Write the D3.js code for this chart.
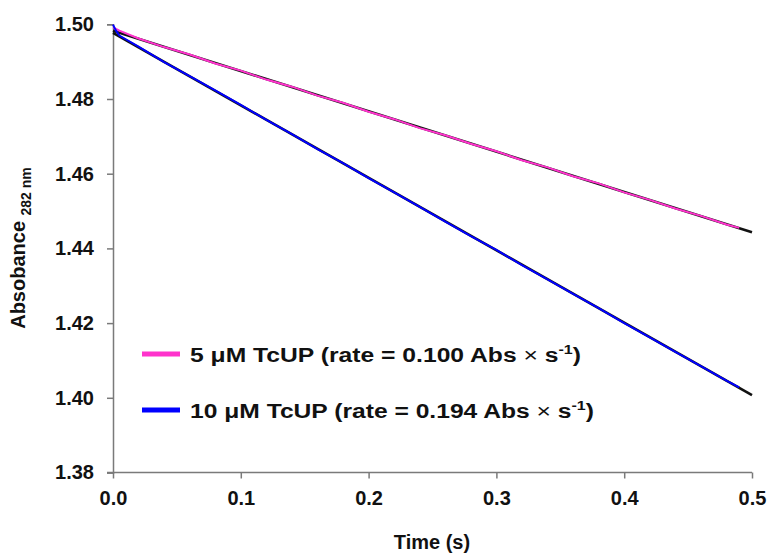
<!DOCTYPE html>
<html><head><meta charset="utf-8">
<script src="https://cdn.jsdelivr.net/npm/d3@7"></script>
<style>body{margin:0;background:#fff}svg{display:block}</style>
</head><body><svg id="c" width="769" height="557"></svg>
<script>
// Data
const xTicks = [0.0, 0.1, 0.2, 0.3, 0.4, 0.5];
const yTicks = [1.38, 1.40, 1.42, 1.44, 1.46, 1.48, 1.50];

const time5 = [0, 0.005, 0.02, 0.04, 0.06, 0.08, 0.10, 0.12, 0.14, 0.16, 0.18, 0.20, 0.22, 0.24, 0.26, 0.28, 0.30, 0.32, 0.34, 0.36, 0.38, 0.40, 0.42, 0.44, 0.46, 0.48, 0.49];
const abs5  = [1.4992, 1.4983, 1.4962, 1.4939, 1.4919, 1.4895, 1.4876, 1.4852, 1.4833, 1.4809, 1.4790, 1.4766, 1.4746, 1.4722, 1.4703, 1.4680, 1.4660, 1.4636, 1.4617, 1.4593, 1.4574, 1.4550, 1.4530, 1.4507, 1.4487, 1.4464, 1.4455];

const time10 = [0, 0.002, 0.005, 0.01, 0.02, 0.04, 0.06, 0.08, 0.10, 0.12, 0.14, 0.16, 0.18, 0.20, 0.22, 0.24, 0.26, 0.28, 0.30, 0.32, 0.34, 0.36, 0.38, 0.40, 0.42, 0.44, 0.46, 0.48, 0.49];
const abs10  = [1.4999, 1.4985, 1.4970, 1.4960, 1.4940, 1.4899, 1.4861, 1.4823, 1.4784, 1.4744, 1.4706, 1.4666, 1.4628, 1.4588, 1.4550, 1.4511, 1.4472, 1.4433, 1.4396, 1.4355, 1.4317, 1.4278, 1.4240, 1.4200, 1.4162, 1.4123, 1.4085, 1.4046, 1.4028];

const fitTime = [0, 0.5];
const fit5  = [1.4983, 1.4443];
const fit10 = [1.4977, 1.4007];

const seriesNames = ["5 \u03BCM TcUP (rate = 0.100 Abs ", "10 \u03BCM TcUP (rate = 0.194 Abs "];
const seriesColors = ["#ff33cc", "#0000ff"];

const svg = d3.select("#c");
const x = d3.scaleLinear().domain([0, 0.5]).range([113, 752]);
const y = d3.scaleLinear().domain([1.38, 1.50]).range([472.5, 24.3]);
const font = "'Liberation Sans', Arial, sans-serif";
const axisColor = "#7a7a7a";

// axes
const xa = svg.append("g").attr("transform", `translate(0,${y(1.38)})`)
  .call(d3.axisBottom(x).tickValues(xTicks).tickFormat(d3.format(".1f")).tickSizeOuter(0).tickSize(6).tickPadding(12));
const ya = svg.append("g").attr("transform", `translate(${x(0)},0)`)
  .call(d3.axisLeft(y).tickValues(yTicks).tickFormat(d3.format(".2f")).tickSizeOuter(0).tickSize(6).tickPadding(13));
[xa, ya].forEach(a => {
  a.select(".domain").attr("stroke", axisColor).attr("stroke-width", 1.5);
  a.selectAll(".tick line").attr("stroke", axisColor).attr("stroke-width", 1.5);
  a.selectAll("text").attr("font-family", font).attr("font-weight", "bold").attr("font-size", 20).attr("fill", "#111");
});
xa.select(".domain").attr("d", `M${x(0)-6},0H${x(0.5)}`);

// lines
const line = d3.line().x(d => x(d[0])).y(d => y(d[1]));
const fits = [d3.zip(fitTime, fit5), d3.zip(fitTime, fit10)];
const data = [d3.zip(time5, abs5), d3.zip(time10, abs10)];
fits.forEach(f => svg.append("path").attr("d", line(f)).attr("fill", "none").attr("stroke", "#111").attr("stroke-width", 2.6));
data.forEach((s, i) => svg.append("path").attr("d", line(s)).attr("fill", "none").attr("stroke", seriesColors[i]).attr("stroke-width", 2));

// axis titles
svg.append("text").attr("x", 432).attr("y", 549).attr("text-anchor", "middle")
  .attr("font-family", font).attr("font-weight", "bold").attr("font-size", 20).attr("fill", "#111").text("Time (s)");
const yt = svg.append("text").attr("transform", "translate(25,248) rotate(-90)").attr("text-anchor", "middle")
  .attr("font-family", font).attr("font-weight", "bold").attr("font-size", 20).attr("fill", "#111");
yt.append("tspan").text("Absobance ");
yt.append("tspan").attr("font-size", 14).attr("dy", 6).text("282 nm");

// legend
const legY = [354, 410];
const legW = [391, 404];
seriesNames.forEach((n, i) => {
  svg.append("line").attr("x1", 142).attr("x2", 180).attr("y1", legY[i]).attr("y2", legY[i])
    .attr("stroke", seriesColors[i]).attr("stroke-width", 5);
  const t = svg.append("text").attr("x", 190).attr("y", legY[i] + 8)
    .attr("font-family", font).attr("font-weight", "bold").attr("font-size", 20).attr("fill", "#111")
    .attr("textLength", legW[i]).attr("lengthAdjust", "spacingAndGlyphs");
  t.append("tspan").text(n);
  t.append("tspan").attr("font-weight", "normal").text("\u00D7 ");
  t.append("tspan").text("s");
  t.append("tspan").attr("font-size", 13).attr("dy", -8).text("-1");
  t.append("tspan").attr("dy", 8).text(")");
});
</script></body></html>
